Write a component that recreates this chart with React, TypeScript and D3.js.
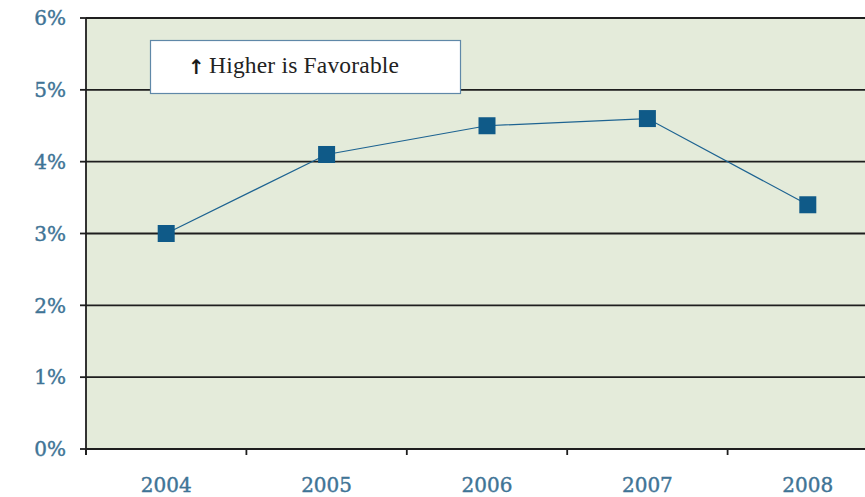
import React, { useEffect, useRef } from "react";
import * as d3 from "d3";

const years = ["2004", "2005", "2006", "2007", "2008"];
const rates = [3.0, 4.1, 4.5, 4.6, 3.4];
const yTicks = [0, 1, 2, 3, 4, 5, 6];
const legendText = "Higher is Favorable";

const WIDTH = 865;
const HEIGHT = 497;

function RateChart() {
  const svgRef = useRef<SVGSVGElement>(null);

  useEffect(() => {
    if (!svgRef.current) return;
    const svg = d3.select(svgRef.current);
    svg.selectAll("*").remove();

    const left = 86;
    const right = 888;
    const top = 18;
    const bottom = 449;
    const labelColor = "#3f7496";
    const tickFont = "'DejaVu Serif', serif";
    const textFont = "'Liberation Serif', serif";

    const x = d3.scaleBand<string>().domain(years).range([left, right]).padding(0);
    const y = d3.scaleLinear().domain([0, 6]).range([bottom, top]);

    // plot background
    svg
      .append("rect")
      .attr("x", left)
      .attr("y", top)
      .attr("width", right - left)
      .attr("height", bottom - top)
      .attr("fill", "#e4ebda");

    // gridlines
    svg
      .append("g")
      .selectAll("line")
      .data(yTicks.filter((d) => d > 0))
      .join("line")
      .attr("x1", left)
      .attr("x2", right)
      .attr("y1", (d) => y(d))
      .attr("y2", (d) => y(d))
      .attr("stroke", "#1e1e1e")
      .attr("stroke-width", 1.8);

    // y axis
    const yAxis = svg.append("g");
    yAxis
      .append("line")
      .attr("x1", left)
      .attr("x2", left)
      .attr("y1", top)
      .attr("y2", bottom + 6)
      .attr("stroke", "#1e1e1e")
      .attr("stroke-width", 1.8);
    yAxis
      .selectAll("line.tick")
      .data(yTicks)
      .join("line")
      .attr("class", "tick")
      .attr("x1", left - 6)
      .attr("x2", left)
      .attr("y1", (d) => y(d))
      .attr("y2", (d) => y(d))
      .attr("stroke", "#1e1e1e")
      .attr("stroke-width", 1.8);
    yAxis
      .selectAll("text")
      .data(yTicks)
      .join("text")
      .attr("x", 66)
      .attr("y", (d) => y(d))
      .attr("dy", "0.36em")
      .attr("text-anchor", "end")
      .attr("font-family", tickFont)
      .attr("font-size", 20)
      .attr("fill", labelColor)
      .attr("stroke", labelColor)
      .attr("stroke-width", 0.4)
      .text((d) => `${d}%`);

    // x axis
    const xAxis = svg.append("g");
    xAxis
      .append("line")
      .attr("x1", left)
      .attr("x2", right)
      .attr("y1", bottom)
      .attr("y2", bottom)
      .attr("stroke", "#1e1e1e")
      .attr("stroke-width", 2);
    const bounds = years.map((d) => x(d) as number).concat([right]);
    xAxis
      .selectAll("line.tick")
      .data(bounds)
      .join("line")
      .attr("class", "tick")
      .attr("x1", (d) => d)
      .attr("x2", (d) => d)
      .attr("y1", bottom)
      .attr("y2", bottom + 6)
      .attr("stroke", "#1e1e1e")
      .attr("stroke-width", 1.8);
    xAxis
      .selectAll("text")
      .data(years)
      .join("text")
      .attr("x", (d) => (x(d) as number) + x.bandwidth() / 2)
      .attr("y", 492)
      .attr("text-anchor", "middle")
      .attr("font-family", tickFont)
      .attr("font-size", 20)
      .attr("fill", labelColor)
      .attr("stroke", labelColor)
      .attr("stroke-width", 0.4)
      .text((d) => d);

    // legend box
    const legend = svg.append("g");
    legend
      .append("rect")
      .attr("x", 150.5)
      .attr("y", 40.5)
      .attr("width", 310)
      .attr("height", 53)
      .attr("fill", "#ffffff")
      .attr("stroke", "#5f88a8")
      .attr("stroke-width", 1.2);
    legend
      .append("text")
      .attr("x", 188)
      .attr("y", 74)
      .attr("font-family", "'DejaVu Sans', sans-serif")
      .attr("font-size", 20)
      .attr("font-weight", "bold")
      .attr("fill", "#1a1a1a")
      .text("\u2191\uFE0E");
    legend
      .append("text")
      .attr("x", 209)
      .attr("y", 73)
      .attr("font-family", textFont)
      .attr("font-size", 23.5)
      .attr("fill", "#222")
      .attr("textLength", 190)
      .text(legendText);

    // series line
    const line = d3
      .line<number>()
      .x((_, i) => (x(years[i]) as number) + x.bandwidth() / 2)
      .y((d) => y(d));

    svg
      .append("path")
      .datum(rates)
      .attr("fill", "none")
      .attr("stroke", "#1d6391")
      .attr("stroke-width", 1.2)
      .attr("d", line);

    const size = 17;
    svg
      .append("g")
      .selectAll("rect")
      .data(rates)
      .join("rect")
      .attr("x", (_, i) => (x(years[i]) as number) + x.bandwidth() / 2 - size / 2)
      .attr("y", (d) => y(d) - size / 2)
      .attr("width", size)
      .attr("height", size)
      .attr("fill", "#0f5a88");
  }, []);

  return (
    <svg
      ref={svgRef}
      width={WIDTH}
      height={HEIGHT}
      style={{ display: "block", position: "absolute", left: 0, top: 0, background: "#fff" }}
    />
  );
}

export default function App() {
  return <RateChart />;
}
